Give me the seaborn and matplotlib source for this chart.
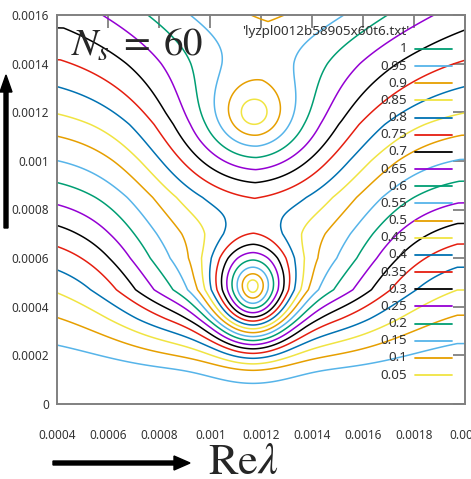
import numpy as np
import matplotlib
matplotlib.use("Agg")
import matplotlib.pyplot as plt
import seaborn as sns
from matplotlib.lines import Line2D
from matplotlib.patches import FancyArrow

# ---------------- data ----------------
levels = [0.05, 0.1, 0.15, 0.2, 0.25, 0.3, 0.35, 0.4, 0.45, 0.5,
          0.55, 0.6, 0.65, 0.7, 0.75, 0.8, 0.85, 0.9, 0.95, 1.0]
level_labels = ["0.05", "0.1", "0.15", "0.2", "0.25", "0.3", "0.35", "0.4", "0.45", "0.5",
                "0.55", "0.6", "0.65", "0.7", "0.75", "0.8", "0.85", "0.9", "0.95", "1"]
level_colors = ["#f0e442", "#e69f00", "#56b4e9", "#009e73", "#9400d3", "#000000", "#e51e10", "#0072b2",
                "#f0e442", "#e69f00", "#56b4e9", "#009e73", "#9400d3", "#000000", "#e51e10", "#0072b2",
                "#f0e442", "#e69f00", "#56b4e9", "#009e73"]

x_ticks = [0.0004, 0.0006, 0.0008, 0.001, 0.0012, 0.0014, 0.0016, 0.0018, 0.002]
x_tick_labels = ["0.0004", "0.0006", "0.0008", "0.001", "0.0012", "0.0014", "0.0016", "0.0018", "0.002"]
y_ticks = [0, 0.0002, 0.0004, 0.0006, 0.0008, 0.001, 0.0012, 0.0014, 0.0016]
y_tick_labels = ["0", "0.0002", "0.0004", "0.0006", "0.0008", "0.001", "0.0012", "0.0014", "0.0016"]

# level met along the plot edge, by Im(lambda) (1e-3 units)
edge_v = [0.0, 0.25, 0.366, 0.47, 0.564, 0.66, 0.745, 0.83, 0.92, 1.01, 1.11, 1.2, 1.31, 1.42, 1.55, 1.8, 2.1, 2.5]
edge_val = [0.985, 0.95, 0.9, 0.85, 0.8, 0.75, 0.7, 0.65, 0.6, 0.55, 0.5, 0.45, 0.4, 0.35, 0.3, 0.205, 0.09, 0.0]

# central valley of the field, by Im(lambda)
valley_v = [0.0, 0.05, 0.1, 0.2, 0.35, 0.47, 0.6, 0.7, 0.85, 1.0, 1.15, 1.4, 1.6]
valley_depth = [0.0, 0.0, 0.07, 0.22, 0.44, 0.6, 0.58, 0.5, 0.44, 0.44, 0.44, 0.45, 0.47]
valley_halfwidth = [0.46, 0.46, 0.46, 0.46, 0.46, 0.45, 0.43, 0.43, 0.40, 0.37, 0.35, 0.39, 0.45]
valley_softness = [0.16, 0.16, 0.16, 0.16, 0.15, 0.15, 0.15, 0.15, 0.15, 0.15, 0.16, 0.19, 0.22]
valley_center = [1.17, 1.17, 1.17, 1.17, 1.17, 1.17, 1.17, 1.17, 1.175, 1.18, 1.19, 1.21, 1.23]
valley_edge = 0.8

# zeros of the field (1e-3 units) and their widths
zero_u = [1.167, 1.172]
zero_v = [0.486, 1.198]
zero_ax = [0.21, 0.27]
zero_ay_up = [0.24, 0.27]
zero_ay_down = [0.28, 0.27]
zero_sharpness = [2.0, 1.0]

file_title = "'lyzpl0012b58905x60t6.txt'"

# ---------------- build the field ----------------
def sig(t):
    return 1.0 / (1.0 + np.exp(-t))

u = np.linspace(0.4, 2.0, 640)
v = np.linspace(0.0, 1.6, 640)
U, V = np.meshgrid(u, v)
Hd = np.interp(V, valley_v, valley_depth)
W0 = np.interp(V, valley_v, valley_halfwidth)
S = np.interp(V, valley_v, valley_softness)
UC = np.interp(V, valley_v, valley_center)
r = np.abs(U - UC)
tail = sig((W0 - valley_edge) / S)
prof = np.clip((sig((W0 - r) / S) - tail) / (sig(W0 / S) - tail), 0, None)
Z = np.interp(V + Hd * prof, edge_v, edge_val)
for u0, v0, ax_, ayu, ayd, p in zip(zero_u, zero_v, zero_ax, zero_ay_up, zero_ay_down, zero_sharpness):
    du = (U - u0) / ax_
    dv = V - v0
    dvn = np.where(dv > 0, dv / ayu, -dv / ayd)
    rho = np.sqrt(du ** 2 + dvn ** 2)
    Z = Z * np.tanh(rho ** p) ** (1.0 / p)
X = U * 1e-3
Y = V * 1e-3

# ---------------- figure ----------------
sns.set_style("white")
plt.rcParams['font.family'] = ['Noto Sans', 'DejaVu Sans']
plt.rcParams['mathtext.fontset'] = 'stix'

W, H = 471, 479
fig = plt.figure(figsize=(W / 100, H / 100), dpi=100)
L, R, T, B = 57.3, 465.0, 15.0, 404.0
ax = fig.add_axes([L / W, 1 - B / H, (R - L) / W, (B - T) / H])

ax.contour(X, Y, Z, levels=levels, colors=level_colors, linewidths=1.1)

ax.set_xlim(0.0004, 0.002)
ax.set_ylim(0, 0.0016)
ax.set_xticks(x_ticks)
ax.set_xticklabels(x_tick_labels)
ax.set_yticks(y_ticks)
ax.set_yticklabels(y_tick_labels)
ax.tick_params(direction='in', length=9, width=1.3, color='#808080', top=True, right=True,
               labelsize=8.5, labelcolor='#333333')
ax.tick_params(axis='x', pad=18)
ax.tick_params(axis='y', pad=6)
for s in ax.spines.values():
    s.set_color('#808080')
    s.set_linewidth(1.4)
ax.grid(False)

def fy(py):
    return 1 - py / H

# key (gnuplot style)
fig.text(409 / W, fy(32), file_title, ha='right', va='center', fontsize=9.7, color='#333333')
for i, idx in enumerate(range(len(levels) - 1, -1, -1)):
    py = 49 + i * 17.16
    fig.text(407 / W, fy(py), level_labels[idx], ha='right', va='center', fontsize=9.7, color='#333333')
    fig.add_artist(Line2D([415 / W, 452 / W], [fy(py), fy(py)], color=level_colors[idx], lw=1.3))

# annotations
fig.text(71 / W, fy(56), r'$N_s\;=\;60$', fontsize=28, ha='left', va='baseline')
fig.text(208 / W, fy(474), r'$\mathrm{Re}\lambda$', fontsize=32, ha='left', va='baseline')
fig.add_artist(FancyArrow(53 / 100, (H - 463) / 100, 137 / 100, 0, width=4 / 100, head_width=14 / 100,
                          head_length=16 / 100, length_includes_head=True, color='black',
                          transform=fig.dpi_scale_trans))
fig.add_artist(FancyArrow(6 / 100, (H - 228) / 100, 0, 153 / 100, width=4 / 100, head_width=12 / 100,
                          head_length=17 / 100, length_includes_head=True, color='black',
                          transform=fig.dpi_scale_trans))

fig.savefig("out.png", dpi=100)
